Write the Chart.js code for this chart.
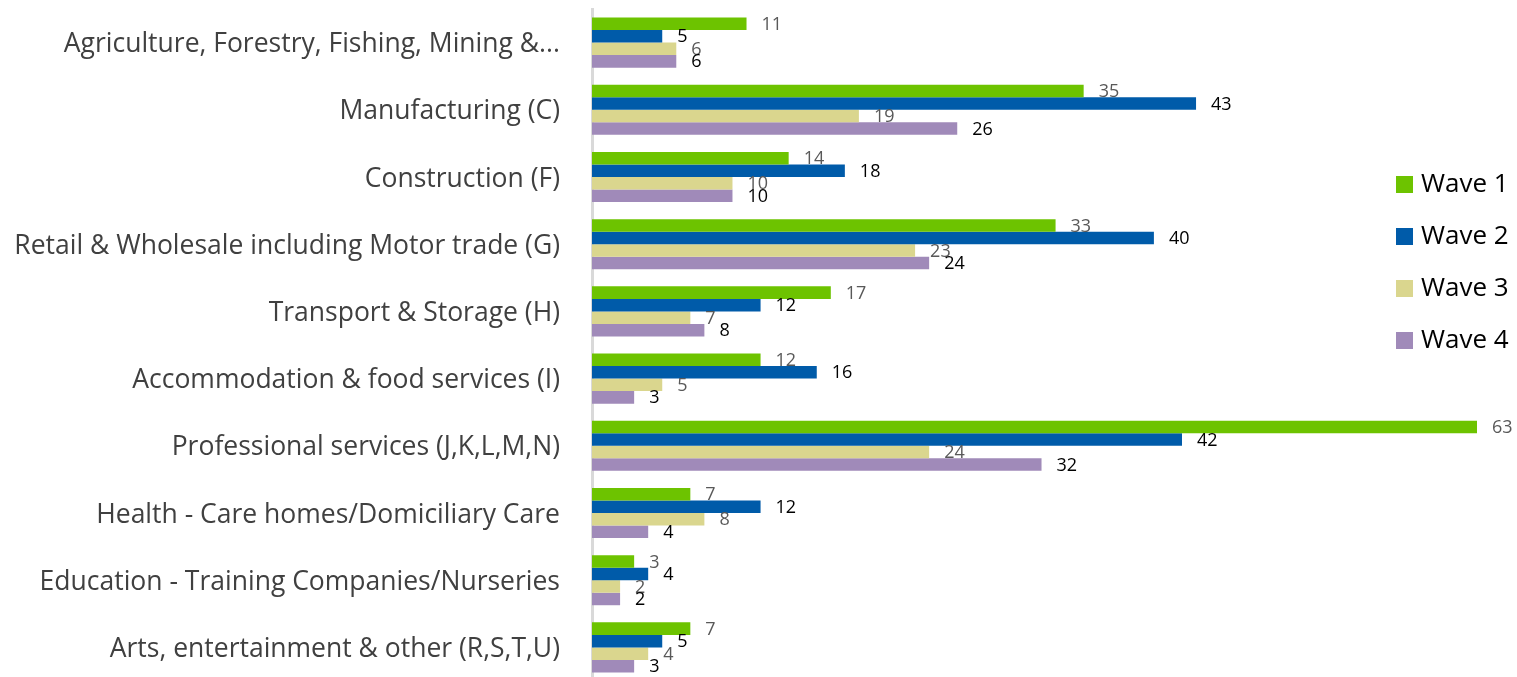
<!DOCTYPE html>
<html>
<head>
<meta charset="utf-8">
<script src="https://cdn.jsdelivr.net/npm/chart.js@4/dist/chart.umd.min.js"></script>
<style>
  html, body { margin: 0; padding: 0; background: #fff; overflow: hidden; }
  #chart { display: block; }
</style>
</head>
<body>
<canvas id="chart" width="1517" height="681"></canvas>
<script>
const categories = [
  "Agriculture, Forestry, Fishing, Mining &...",
  "Manufacturing (C)",
  "Construction (F)",
  "Retail & Wholesale including Motor trade (G)",
  "Transport & Storage (H)",
  "Accommodation & food services (I)",
  "Professional services (J,K,L,M,N)",
  "Health - Care homes/Domiciliary Care",
  "Education - Training Companies/Nurseries",
  "Arts, entertainment & other (R,S,T,U)"
];
const wave1 = [11, 35, 14, 33, 17, 12, 63, 7, 3, 7];
const wave2 = [5, 43, 18, 40, 12, 16, 42, 12, 4, 5];
const wave3 = [6, 19, 10, 23, 7, 5, 24, 8, 2, 4];
const wave4 = [6, 26, 10, 24, 8, 3, 32, 4, 2, 3];

const seriesNames = ["Wave 1", "Wave 2", "Wave 3", "Wave 4"];
const seriesColors = ["#6dc300", "#005ba9", "#dad68e", "#a08ab9"];
const labelColors = ["#595959", "#000000", "#595959", "#000000"];

const FONT = "'Open Sans', 'Noto Sans', sans-serif";

// value labels at the end of each bar
const valueLabels = {
  id: "valueLabels",
  afterDatasetsDraw(chart) {
    const ctx = chart.ctx;
    ctx.save();
    ctx.font = "18px " + FONT;
    ctx.textAlign = "left";
    ctx.textBaseline = "middle";
    chart.data.datasets.forEach((ds, i) => {
      const meta = chart.getDatasetMeta(i);
      ctx.fillStyle = labelColors[i];
      meta.data.forEach((bar, j) => {
        ctx.fillText(String(ds.data[j]), bar.x + 15, bar.y + 1);
      });
    });
    ctx.restore();
  }
};

// legend on the right, drawn over the plot
const sideLegend = {
  id: "sideLegend",
  afterDraw(chart) {
    const ctx = chart.ctx;
    ctx.save();
    ctx.font = "26px " + FONT;
    ctx.textAlign = "left";
    ctx.textBaseline = "middle";
    chart.data.datasets.forEach((ds, i) => {
      const y = 184 + i * 52;
      ctx.fillStyle = ds.backgroundColor;
      ctx.fillRect(1396, y - 8, 17, 17);
      ctx.fillStyle = "#000000";
      ctx.fillText(ds.label, 1421, y + 1);
    });
    ctx.restore();
  }
};

const datasets = [wave1, wave2, wave3, wave4].map((data, i) => ({
  label: seriesNames[i],
  data: data,
  backgroundColor: seriesColors[i],
  borderWidth: 0,
  categoryPercentage: 0.745,
  barPercentage: 1.0
}));

new Chart(document.getElementById("chart"), {
  type: "bar",
  data: { labels: categories, datasets: datasets },
  plugins: [valueLabels, sideLegend],
  options: {
    indexAxis: "y",
    responsive: false,
    animation: false,
    devicePixelRatio: 1,
    layout: { padding: { top: 9, right: 40, bottom: 0, left: 0 } },
    plugins: {
      legend: { display: false },
      tooltip: { enabled: false },
      title: { display: false }
    },
    scales: {
      x: {
        display: false,
        min: 0,
        max: 63
      },
      y: {
        grid: { display: false, drawTicks: false },
        border: { display: true, color: "#d9d9d9", width: 3 },
        ticks: {
          color: "#404040",
          padding: 32,
          labelOffset: 2,
          font: { family: FONT, size: 26.5 }
        },
        afterFit(scale) {
          scale.width = 592;
          scale.paddingTop = 0;
          scale.paddingBottom = 0;
        }
      }
    }
  }
});
</script>
</body>
</html>
